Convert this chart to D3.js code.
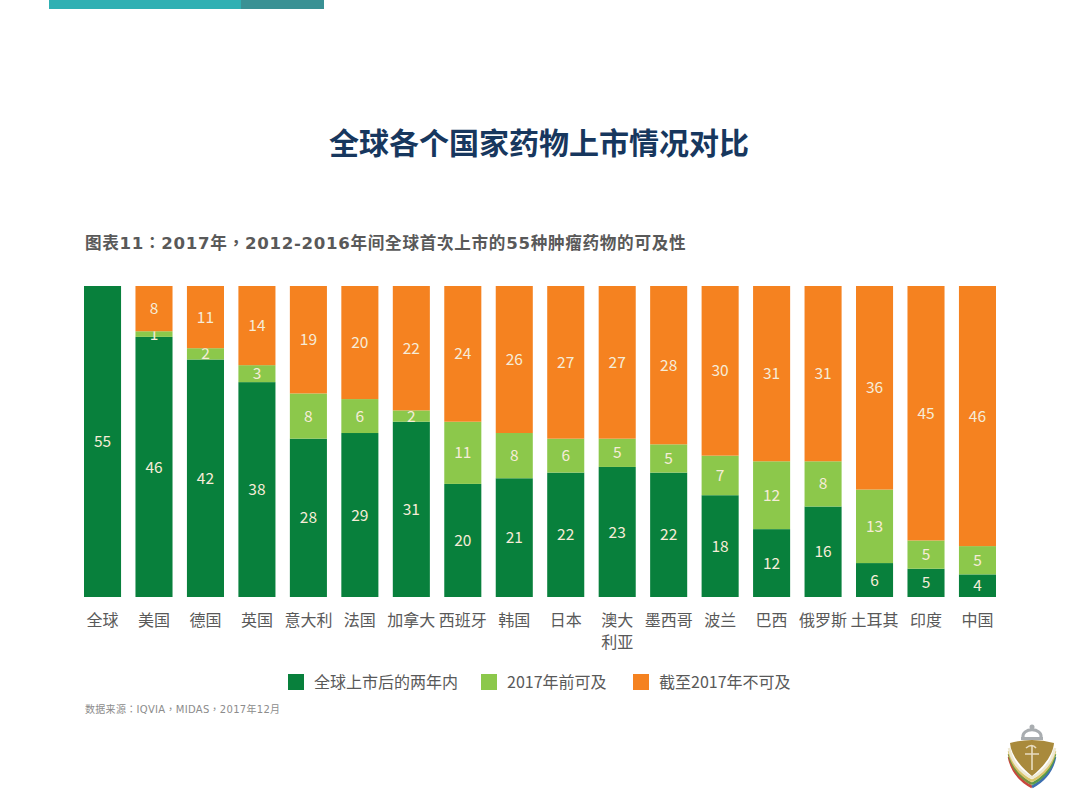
<!DOCTYPE html>
<html>
<head>
<meta charset="utf-8">
<script src="https://cdn.jsdelivr.net/npm/d3@7"></script>
<style>
html, body { margin: 0; padding: 0; background: #fff; }
text { font-family: "Noto Sans CJK SC", "Noto Sans", sans-serif; }
text.wide { font-family: "DejaVu Sans", "Noto Sans CJK TC", sans-serif; }
</style>
</head>
<body>
<div id="chart"></div>
<script>
var countries = ['全球','美国','德国','英国','意大利','法国','加拿大','西班牙','韩国','日本','澳大利亚','墨西哥','波兰','巴西','俄罗斯','土耳其','印度','中国'];
var within_two = [55,46,42,38,28,29,31,20,21,22,23,22,18,12,16,6,5,4];
var before_2017 = [0,1,2,3,8,6,2,11,8,6,5,5,7,12,8,13,5,5];
var not_available = [0,8,11,14,19,20,22,24,26,27,27,28,30,31,31,36,45,46];
var series_names = ['全球上市后的两年内','2017年前可及','截至2017年不可及'];
var series_colors = ['#08803c','#8cc84b','#f58220'];
var title = '全球各个国家药物上市情况对比';
var subtitle = '图表11：2017年，2012-2016年间全球首次上市的55种肿瘤药物的可及性';
var source = '数据来源：IQVIA，MIDAS，2017年12月';

var w = 1080, h = 810;

var svg = d3.select('#chart').append('svg')
            .attr('width', w)
            .attr('height', h)
            .style('display', 'block');

// top strip
svg.append('rect').attr('x', 49).attr('y', 0).attr('width', 192).attr('height', 9).attr('fill', '#2fb0b3');
svg.append('rect').attr('x', 241).attr('y', 0).attr('width', 83).attr('height', 9).attr('fill', '#3a9194');

svg.append('text').attr('x', 539).attr('y', 154)
   .attr('text-anchor', 'middle')
   .attr('font-size', 30).attr('font-weight', 700)
   .attr('fill', '#17375e')
   .text(title);

svg.append('text').attr('class', 'wide').attr('x', 85).attr('y', 249)
   .attr('font-size', 16.6).attr('font-weight', 700)
   .attr('letter-spacing', 0.7)
   .attr('fill', '#595959')
   .text(subtitle);

var xScale = d3.scaleBand()
               .domain(countries)
               .range([84, 996])
               .paddingInner(0.28)
               .paddingOuter(0);

var yScale = d3.scaleLinear()
               .domain([0, 55])
               .range([597, 286]);

var rows = countries.map(function(c, i) {
  return { country: c, s0: within_two[i], s1: before_2017[i], s2: not_available[i] };
});

var stacked = d3.stack().keys(['s0','s1','s2'])(rows);

var groups = svg.selectAll('g.series')
                .data(stacked)
                .enter()
                .append('g')
                .attr('class', 'series');

groups.append('g').selectAll('rect')
      .data(function(d) { return d.filter(function(p) { return p[1] > p[0]; }); })
      .enter()
      .append('rect')
      .attr('x', function(d) { return xScale(d.data.country); })
      .attr('width', xScale.bandwidth())
      .attr('y', function(d) { return yScale(d[1]); })
      .attr('height', function(d) { return yScale(d[0]) - yScale(d[1]); })
      .attr('fill', function() { return series_colors[this.parentNode.parentNode.__data__.index]; });

groups.append('g').selectAll('text')
      .data(function(d) { return d.filter(function(p) { return p[1] > p[0]; }); })
      .enter()
      .append('text')
      .attr('x', function(d) { return xScale(d.data.country) + xScale.bandwidth() / 2; })
      .attr('y', function(d) { return (yScale(d[0]) + yScale(d[1])) / 2; })
      .attr('dy', '0.36em')
      .attr('text-anchor', 'middle')
      .attr('font-size', 15.5)
      .attr('fill', '#f6ecd8')
      .text(function(d) { return d[1] - d[0]; });

// country labels, 澳大利亚 wraps to two lines
var labels = svg.selectAll('text.country')
                .data(countries)
                .enter()
                .append('text')
                .attr('class', 'country')
                .attr('text-anchor', 'middle')
                .attr('font-size', 16)
                .attr('fill', '#595959');

labels.each(function(d) {
  var cx = xScale(d) + xScale.bandwidth() / 2;
  var lines = d.length > 3 ? [d.slice(0, 2), d.slice(2)] : [d];
  d3.select(this).selectAll('tspan')
    .data(lines)
    .enter()
    .append('tspan')
    .attr('x', cx)
    .attr('y', function(l, i) { return 626 + i * 22; })
    .text(function(l) { return l; });
});

// legend
var legend_x = [288, 481, 633];
var legend = svg.selectAll('g.legend')
                .data(series_names)
                .enter()
                .append('g')
                .attr('class', 'legend')
                .attr('transform', function(d, i) { return 'translate(' + legend_x[i] + ',674)'; });

legend.append('rect')
      .attr('width', 16).attr('height', 16)
      .attr('fill', function(d, i) { return series_colors[i]; });

legend.append('text')
      .attr('x', 26).attr('y', 13.5)
      .attr('font-size', 16)
      .attr('fill', '#595959')
      .text(function(d) { return d; });

svg.append('text').attr('class', 'wide').attr('x', 85).attr('y', 713)
   .attr('font-size', 10)
   .attr('letter-spacing', 0.3)
   .attr('fill', '#8c8c8c')
   .text(source);

// crest, bottom right
var crest = svg.append('g').attr('transform', 'translate(980,710)');
crest.append('path').attr('d', 'M43 28 C41 17 63 17 61 28').attr('fill', '#fff').attr('stroke', '#a9adb0').attr('stroke-width', 3);
crest.append('circle').attr('cx', 52).attr('cy', 17).attr('r', 2.5).attr('fill', '#a9adb0');
crest.append('rect').attr('x', 41).attr('y', 27).attr('width', 22).attr('height', 3).attr('fill', '#a9adb0');
var band_left = ['#efe9d4', '#d9c56a', '#7a8f3d', '#c9463d'];
var band_right = ['#efe9d4', '#d9c56a', '#5a9a4a', '#3d6fb0'];
for (var k = 3; k >= 0; k--) {
  crest.append('path')
       .attr('d', 'M29 ' + (38 + k * 3) + ' Q33 ' + (58 + k * 3) + ' 52 ' + (68 + k * 3))
       .attr('fill', 'none').attr('stroke', band_left[k]).attr('stroke-width', 2.6);
  crest.append('path')
       .attr('d', 'M75 ' + (38 + k * 3) + ' Q71 ' + (58 + k * 3) + ' 52 ' + (68 + k * 3))
       .attr('fill', 'none').attr('stroke', band_right[k]).attr('stroke-width', 2.6);
}
crest.append('path')
     .attr('d', 'M30 33 Q52 27 74 33 C73 46 62 58 52 66 C42 58 31 46 30 33 Z')
     .attr('fill', '#a98a3c');
crest.append('path')
     .attr('d', 'M52 36 L52 60 M45 44 L59 44 M46 38 Q52 33 56 38')
     .attr('fill', 'none').attr('stroke', '#e8dcc0').attr('stroke-width', 1.6);
</script>
</body>
</html>
